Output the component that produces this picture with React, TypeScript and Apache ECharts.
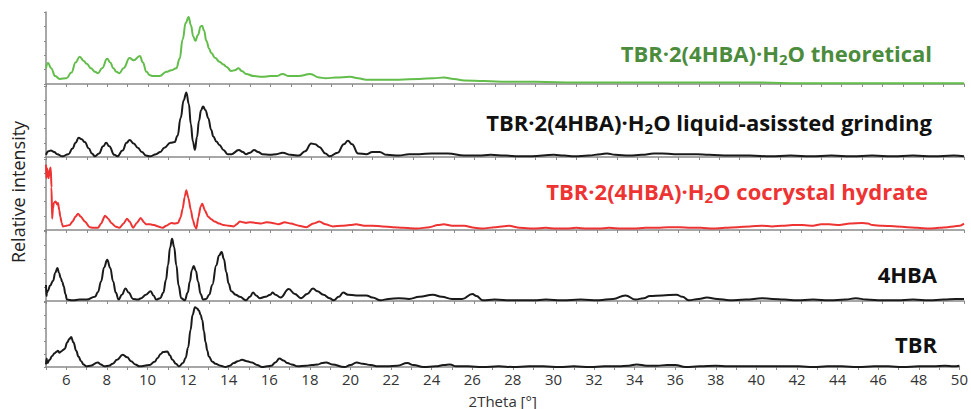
import React, { useEffect, useRef } from "react";
import * as echarts from "echarts";

// x positions (2Theta, degrees) with relative intensity (% of panel height)
const theoretical: number[][] = [
  [5.0, 22], [5.1, 29], [5.25, 22], [5.45, 11], [5.67, 7], [6.0, 8], [6.25, 16], [6.45, 30], [6.65, 38], [6.85, 32],
  [7.0, 28], [7.2, 22], [7.4, 17], [7.55, 15], [7.75, 22], [8.0, 35], [8.15, 30], [8.3, 22], [8.45, 17], [8.6, 15],
  [8.8, 22], [9.1, 36], [9.3, 33], [9.6, 39], [9.75, 30], [9.92, 17], [10.1, 12], [10.25, 11], [10.57, 11], [10.9, 17],
  [11.14, 19], [11.39, 22], [11.55, 35], [11.7, 62], [11.85, 85], [11.99, 93], [12.1, 82], [12.22, 66], [12.32, 60],
  [12.45, 68], [12.58, 80], [12.65, 81], [12.75, 74], [12.86, 60], [13.0, 49], [13.1, 43], [13.3, 36], [13.5, 31],
  [13.7, 27], [13.84, 24], [14.08, 18], [14.25, 19], [14.44, 22], [14.6, 18], [14.8, 14], [15.2, 11], [15.6, 10],
  [16.0, 11], [16.3, 11], [16.6, 14], [16.9, 11], [17.4, 11], [17.95, 14], [18.4, 9], [18.7, 8], [19.2, 9], [19.9, 10],
  [20.3, 8], [20.7, 6], [21.5, 6], [22.3, 6], [23.3, 7], [24.0, 8], [24.5, 9], [25.0, 7], [25.5, 5], [26.5, 4],
  [27.6, 3], [29.0, 3], [31.0, 2], [33.8, 2], [36.0, 2], [38.0, 2], [40.0, 2], [42.0, 1], [44.0, 1], [46.0, 1],
  [48.0, 1], [50.0, 1],
];

const grinding: number[][] = [
  [5.0, 3], [5.12, 8], [5.24, 9], [5.4, 7], [5.55, 4], [5.8, 1], [6.1, 4], [6.3, 12], [6.45, 20], [6.6, 27],
  [6.75, 25], [6.9, 21], [7.1, 12], [7.25, 5], [7.4, 1], [7.6, 5], [7.8, 15], [7.95, 20], [8.1, 15], [8.35, 3],
  [8.5, 1], [8.75, 9], [8.95, 20], [9.1, 24], [9.3, 19], [9.5, 13], [9.7, 7], [9.9, 2], [10.1, 1], [10.4, 4],
  [10.6, 7], [10.8, 13], [11.1, 20], [11.3, 21], [11.45, 30], [11.6, 55], [11.75, 80], [11.88, 91], [12.0, 75],
  [12.1, 46], [12.2, 22], [12.3, 10], [12.4, 28], [12.5, 51], [12.6, 66], [12.7, 71], [12.82, 66], [12.95, 55],
  [13.1, 38], [13.2, 29], [13.35, 22], [13.5, 17], [13.7, 10], [13.9, 4], [14.1, 4], [14.45, 10], [14.65, 7],
  [14.8, 4], [15.0, 6], [15.2, 10], [15.4, 7], [15.6, 4], [16.0, 3], [16.3, 4], [16.6, 6], [17.0, 3], [17.4, 2],
  [17.7, 8], [18.0, 19], [18.2, 18], [18.4, 14], [18.7, 5], [18.9, 1], [19.3, 6], [19.6, 18], [19.8, 23], [20.0, 18],
  [20.3, 5], [20.7, 4], [21.0, 7], [21.35, 7], [21.7, 3], [22.3, 2], [22.8, 4], [23.3, 4], [23.9, 5], [24.7, 5],
  [25.5, 2], [26.2, 2], [26.8, 3], [27.5, 2], [28.2, 1], [28.8, 1], [29.9, 3], [30.4, 2], [30.9, 1], [31.6, 2],
  [32.2, 4], [32.5, 5], [32.9, 3], [33.6, 2], [34.2, 3], [34.8, 5], [35.2, 5], [35.8, 4], [36.4, 4], [36.9, 4],
  [37.5, 3], [38.5, 2], [39.5, 2], [40.5, 1], [41.5, 2], [42.5, 1], [43.5, 2], [44.5, 1], [45.5, 2], [46.5, 1],
  [47.5, 2], [48.5, 1], [49.5, 2], [50.0, 1],
];

const hydrate: number[][] = [
  [5.0, 92], [5.02, 73], [5.05, 87], [5.1, 78], [5.13, 73], [5.18, 85], [5.23, 88], [5.27, 60], [5.3, 16],
  [5.34, 30], [5.38, 38], [5.47, 40], [5.55, 36], [5.59, 38], [5.65, 28], [5.7, 19], [5.77, 10], [5.83, 5],
  [6.0, 6], [6.16, 7], [6.3, 12], [6.45, 19], [6.57, 23], [6.7, 19], [6.9, 12], [7.14, 4], [7.3, 3], [7.55, 3],
  [7.7, 9], [7.89, 20], [8.05, 16], [8.2, 10], [8.4, 5], [8.6, 3], [8.8, 9], [8.97, 16], [9.1, 12], [9.27, 3],
  [9.45, 10], [9.64, 17], [9.8, 11], [9.9, 8], [10.1, 8], [10.3, 7], [10.5, 5], [10.7, 3], [10.9, 6], [11.14, 10],
  [11.3, 9], [11.47, 10], [11.6, 18], [11.7, 30], [11.8, 47], [11.88, 56], [11.98, 45], [12.1, 28], [12.2, 14],
  [12.3, 5], [12.37, 2], [12.47, 18], [12.58, 33], [12.66, 37], [12.8, 27], [12.94, 19], [13.1, 15], [13.27, 12],
  [13.5, 9], [13.7, 7], [13.95, 6], [14.2, 5], [14.35, 8], [14.5, 12], [14.65, 11], [14.8, 10], [15.0, 11],
  [15.3, 10], [15.55, 9], [15.8, 11], [16.1, 10], [16.4, 8], [16.7, 11], [17.0, 9], [17.4, 6], [17.76, 4],
  [18.1, 9], [18.4, 12], [18.7, 8], [19.07, 5], [19.5, 6], [19.9, 7], [20.2, 8], [20.6, 6], [21.0, 6], [21.5, 5],
  [22.0, 4], [22.5, 3], [23.2, 2], [23.8, 4], [24.2, 7], [24.5, 8], [24.9, 6], [25.5, 6], [26.0, 3], [26.4, 2],
  [27.0, 4], [27.7, 6], [28.2, 3], [28.9, 2], [29.5, 3], [30.0, 2], [30.5, 2], [31.0, 3], [31.5, 2], [32.1, 2],
  [32.6, 3], [33.2, 2], [33.8, 2], [34.4, 3], [35.0, 3], [35.5, 4], [36.05, 4], [36.6, 3], [37.1, 3], [37.7, 2],
  [38.3, 3], [38.9, 4], [39.5, 5], [40.1, 6], [40.6, 5], [41.1, 6], [41.6, 7], [42.1, 7], [42.6, 6], [43.0, 8],
  [43.4, 8], [43.9, 7], [44.4, 9], [45.0, 10], [45.3, 9], [45.5, 7], [46.0, 6], [46.7, 5], [47.2, 4], [47.7, 3],
  [48.3, 2], [48.8, 3], [49.2, 4], [49.5, 5], [49.8, 6], [50.0, 9],
];

const hba: number[][] = [
  [5.0, 23], [5.02, 7], [5.05, 12], [5.1, 15], [5.2, 22], [5.35, 29], [5.45, 40], [5.56, 47], [5.64, 40], [5.72, 33],
  [5.8, 27], [5.87, 21], [5.95, 10], [6.03, 2], [6.3, 1], [6.65, 2], [7.0, 2], [7.4, 6], [7.55, 13], [7.7, 28],
  [7.85, 48], [8.0, 59], [8.15, 47], [8.29, 28], [8.42, 12], [8.56, 2], [8.72, 9], [8.9, 18], [9.05, 12], [9.27, 3],
  [9.5, 2], [9.67, 4], [9.9, 9], [10.13, 14], [10.27, 8], [10.4, 2], [10.6, 4], [10.75, 12], [10.88, 30], [10.98, 51],
  [11.08, 76], [11.18, 89], [11.28, 77], [11.39, 51], [11.5, 22], [11.63, 4], [11.8, 1], [11.95, 12], [12.05, 28],
  [12.15, 44], [12.24, 50], [12.35, 43], [12.45, 28], [12.58, 10], [12.7, 2], [12.85, 3], [13.0, 9], [13.15, 23],
  [13.35, 51], [13.48, 65], [13.61, 70], [13.72, 60], [13.84, 41], [13.95, 25], [14.08, 14], [14.3, 9], [14.5, 6],
  [14.8, 1], [15.0, 6], [15.15, 12], [15.3, 8], [15.48, 4], [15.75, 6], [16.0, 9], [16.1, 12], [16.25, 9], [16.5, 5],
  [16.9, 17], [17.2, 10], [17.5, 4], [17.8, 10], [18.09, 18], [18.3, 14], [18.6, 9], [18.9, 4], [19.1, 1], [19.35, 6],
  [19.57, 12], [19.8, 9], [20.2, 8], [20.7, 8], [21.0, 5], [21.4, 1], [21.8, 3], [22.3, 4], [22.8, 3], [23.3, 6],
  [23.96, 9], [24.4, 6], [24.9, 3], [25.4, 3], [25.9, 10], [26.1, 7], [26.4, 1], [27.0, 2], [27.8, 1], [28.9, 1],
  [29.5, 2], [30.3, 1], [31.2, 2], [32.1, 1], [32.8, 3], [33.4, 8], [33.9, 2], [34.3, 4], [34.6, 7], [35.2, 8],
  [35.9, 9], [36.2, 6], [36.5, 1], [37.0, 3], [37.4, 5], [37.9, 3], [38.5, 1], [39.3, 2], [40.1, 4], [40.6, 3],
  [41.2, 2], [41.8, 1], [42.6, 2], [43.4, 1], [44.2, 2], [44.7, 4], [45.2, 2], [46.0, 1], [46.7, 1], [47.5, 2],
  [48.3, 1], [49.0, 2], [49.6, 3], [50.0, 3],
];

const tbr: number[][] = [
  [5.0, 4], [5.03, 13], [5.07, 6], [5.18, 11], [5.3, 17], [5.42, 21], [5.5, 23], [5.59, 25], [5.67, 22], [5.75, 24],
  [5.84, 26], [5.92, 28], [6.05, 38], [6.15, 43], [6.24, 46], [6.35, 38], [6.49, 25], [6.6, 16], [6.73, 9], [6.85, 4],
  [6.98, 1], [7.2, 2], [7.55, 7], [7.7, 4], [7.88, 1], [8.1, 2], [8.29, 5], [8.5, 11], [8.78, 19], [9.0, 15],
  [9.19, 9], [9.4, 4], [9.6, 1], [10.1, 3], [10.35, 8], [10.5, 14], [10.65, 20], [10.77, 23], [10.98, 24], [11.1, 18],
  [11.23, 11], [11.4, 5], [11.55, 1], [11.75, 6], [11.88, 14], [12.0, 30], [12.12, 57], [12.22, 80], [12.34, 92],
  [12.45, 90], [12.53, 87], [12.62, 80], [12.7, 72], [12.78, 55], [12.86, 38], [12.95, 25], [13.02, 16], [13.2, 8],
  [13.35, 5], [13.6, 2], [13.84, 0], [14.05, 2], [14.25, 6], [14.45, 9], [14.66, 11], [14.9, 9], [15.15, 7], [15.4, 3],
  [15.64, 0], [15.9, 1], [16.1, 2], [16.3, 7], [16.5, 13], [16.7, 10], [16.9, 6], [17.1, 4], [17.4, 1], [17.8, 2],
  [18.1, 3], [18.4, 4], [18.6, 6], [18.8, 7], [19.1, 4], [19.7, 0], [20.0, 3], [20.3, 7], [20.6, 5], [21.0, 3],
  [21.35, 1], [21.8, 1], [22.3, 2], [22.8, 6], [23.1, 3], [23.6, 0], [24.2, 1], [24.6, 3], [24.9, 4], [25.2, 1],
  [25.8, 1], [26.5, 0], [27.3, 1], [28.0, 0], [28.8, 1], [29.5, 1], [30.3, 0], [31.0, 1], [31.8, 0], [32.5, 1],
  [33.2, 1], [33.7, 2], [34.1, 4], [34.6, 2], [35.1, 2], [35.6, 3], [36.0, 3], [36.5, 0], [37.2, 1], [38.0, 2],
  [38.6, 1], [39.3, 1], [40.0, 1], [40.7, 1], [41.4, 1], [42.1, 1], [42.8, 0], [43.5, 1], [44.2, 1], [45.0, 0],
  [45.8, 1], [46.5, 1], [47.2, 0], [48.0, 1], [48.7, 1], [49.3, 2], [49.7, 1], [50.0, 2],
];

const xTickLabels = [6, 8, 10, 12, 14, 16, 18, 20, 22, 24, 26, 28, 30, 32, 34, 36, 38, 40, 42, 44, 46, 48, 50];

const panelSeries = [theoretical, grinding, hydrate, hba, tbr];
const lineColors = ["#62bd4a", "#1a1a1a", "#ee3333", "#1a1a1a", "#1a1a1a"];
const labelColors = ["#4b8c3c", "#111111", "#ee3333", "#111111", "#111111"];
const labelMain = [
  ["TBR·2(4HBA)·H", "O theoretical"],
  ["TBR·2(4HBA)·H", "O liquid-asissted grinding"],
  ["TBR·2(4HBA)·H", "O cocrystal hydrate"],
  ["4HBA"],
  ["TBR"],
];

const gridTops = [12, 86, 159, 231, 302];
const gridHeights = [72, 71, 71, 70, 69];
const labelRight = [932, 932, 928, 937, 937];
const labelY = [53, 122, 191, 274, 344];

const FONT = "'Open Sans', 'Noto Sans', sans-serif";

export default function App() {
  const ref = useRef<HTMLDivElement>(null);
  useEffect(() => {
    if (!ref.current) return;
    const chart = echarts.init(ref.current, undefined, { renderer: "svg" });
    const n = panelSeries.length;
    const grids = gridTops.map((t, i) => ({ left: 46, right: 7, top: t, height: gridHeights[i] }));
    const xAxes = panelSeries.map((_, i) => ({
      type: "value",
      gridIndex: i,
      min: 5,
      max: 50,
      interval: 1,
      axisLine: { show: true, lineStyle: { color: "#8a8a8a", width: 1.5 } },
      axisTick: { show: true, length: 3, lineStyle: { color: "#8a8a8a" } },
      splitLine: { show: false },
      axisLabel: {
        show: i === n - 1,
        fontSize: 15,
        lineHeight: 15,
        fontFamily: FONT,
        color: "#333",
        margin: 4,
        formatter: (v: number) => (xTickLabels.includes(v) ? String(v) : ""),
      },
      name: i === n - 1 ? "2Theta [°]" : "",
      nameLocation: "middle",
      nameGap: 26,
      nameTextStyle: { fontSize: 15, fontFamily: FONT, color: "#333", lineHeight: 15 },
    }));
    const yAxes = panelSeries.map((_, i) => ({
      type: "value",
      gridIndex: i,
      min: 0,
      max: 100,
      interval: 20,
      axisLine: { show: true, lineStyle: { color: "#8a8a8a", width: 1.5 } },
      axisTick: { show: true, length: 2, lineStyle: { color: "#8a8a8a" } },
      minorTick: { show: true, splitNumber: 4, length: 1, lineStyle: { color: "#aaaaaa" } },
      axisLabel: { show: false },
      splitLine: { show: false },
    }));
    const series = panelSeries.map((d, i) => ({
      type: "line",
      xAxisIndex: i,
      yAxisIndex: i,
      data: d,
      showSymbol: false,
      smooth: i === 2 ? 0.25 : 0.45,
      smoothMonotone: "x",
      lineStyle: { color: lineColors[i], width: 2 },
      silent: true,
    }));
    const labels = labelMain.map((parts, i) => {
      const rich: any = {
        a: { fontSize: 22, fontWeight: "bold", fontFamily: FONT, fill: labelColors[i], lineHeight: 27 },
        s: { fontSize: 15, fontWeight: "bold", fontFamily: FONT, fill: labelColors[i], verticalAlign: "bottom", lineHeight: 12 },
      };
      const text = parts.length > 1 ? `{a|${parts[0]}}{s|2}{a|${parts[1]}}` : `{a|${parts[0]}}`;
      return {
        type: "text",
        x: labelRight[i],
        y: labelY[i],
        style: { text, rich, align: "right", verticalAlign: "middle", fill: labelColors[i] },
        silent: true,
      };
    });
    chart.setOption({
      animation: false,
      grid: grids,
      xAxis: xAxes,
      yAxis: yAxes,
      series,
      graphic: [
        ...labels,
        {
          type: "text",
          x: 18,
          y: 192,
          rotation: Math.PI / 2,
          style: {
            text: "Relative intensity",
            fontSize: 18,
            fontFamily: FONT,
            fill: "#222",
            align: "center",
            verticalAlign: "middle",
          },
          silent: true,
        },
      ],
    });
    return () => chart.dispose();
  }, []);
  return <div ref={ref} style={{ width: 971, height: 409, position: "absolute", left: 0, top: 0 }} />;
}
